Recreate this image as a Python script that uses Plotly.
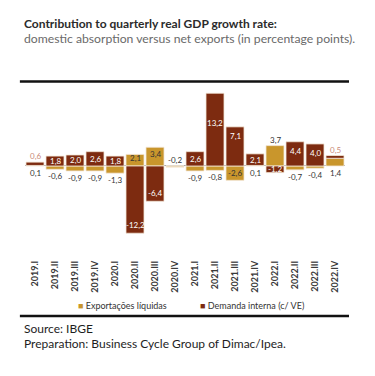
import plotly.graph_objects as go

quarters = ["2019.I", "2019.II", "2019.III", "2019.IV", "2020.I", "2020.II", "2020.III", "2020.IV",
            "2021.I", "2021.II", "2021.III", "2021.IV", "2022.I", "2022.II", "2022.III", "2022.IV"]
net_exports = [0.1, -0.6, -0.9, -0.9, -1.3, 2.1, 3.4, -0.2, -0.9, -0.8, -2.6, 0.1, 3.7, -0.7, -0.4, 1.4]
domestic = [0.6, 1.8, 2.0, 2.6, 1.8, -12.2, -6.4, 0.0, 2.6, 13.2, 7.1, 2.1, -1.2, 4.4, 4.0, 0.5]
net_label_pos = ["below", "below", "below", "below", "below", "inside", "inside", "above",
                 "below", "below", "inside", "below", "above", "below", "below", "below"]
series_names = ["Exportações líquidas", "Demanda interna (c/ VE)"]

GOLD = "#c9962c"
BROWN = "#7d2b10"
FONT = "Lato"

def fmt(v):
    return f"{v:.1f}".replace(".", ",")

fig = go.Figure()
fig.add_trace(go.Bar(x=quarters, y=net_exports, name=series_names[0],
                     marker=dict(color=GOLD, line=dict(color="#f3e6d6", width=0.8))))
fig.add_trace(go.Bar(x=quarters, y=domestic, name=series_names[1],
                     marker=dict(color=BROWN, line=dict(color="#f3e6d6", width=0.8))))

ann = []
for q, n, d, pos in zip(quarters, net_exports, domestic, net_label_pos):
    if pos == "below":
        ann.append(dict(x=q, y=min(n, 0), yshift=-7, text=fmt(n), font=dict(size=8, color="#333333")))
    elif pos == "inside":
        ann.append(dict(x=q, y=n / 2 + (0.4 if n > 0 else 0), text=fmt(n), font=dict(size=8, color="#333333")))
    else:
        ann.append(dict(x=q, y=max(n, 0), yshift=6, text=fmt(n), font=dict(size=8, color="#333333")))
    if d == 0:
        continue
    base = max(n, 0)
    if abs(d) >= 3:
        if d > 0:
            shift = -9 if d < 10 else -30
            ann.append(dict(x=q, y=base + d, yshift=shift, text=fmt(d), font=dict(size=8, color="white")))
        else:
            ann.append(dict(x=q, y=d, yshift=8, text=fmt(d), font=dict(size=8, color="white")))
    elif abs(d) >= 1:
        ann.append(dict(x=q, y=(base + d / 2) if d > 0 else d / 2, text=fmt(d),
                        font=dict(size=8, color="white")))
    else:
        ann.append(dict(x=q, y=base + d, yshift=6, text=fmt(d), font=dict(size=8, color="#c98a78")))

for a in ann:
    a.update(xref="x", yref="y", showarrow=False, font=dict(family=FONT, **a["font"]))

def legend_item(color, label):
    return f'<span style="color:{color}">■</span> {label}'

ann += [
    dict(xref="paper", yref="paper", x=-0.01, y=1.0, xanchor="left", yanchor="middle",
         yshift=85 - 23, showarrow=False, text="<b>Contribution to quarterly real GDP growth rate:</b>",
         font=dict(family=FONT, size=12, color="#2b2b2b")),
    dict(xref="paper", yref="paper", x=-0.01, y=1.0, xanchor="left", yanchor="middle",
         yshift=85 - 38, showarrow=False, text="domestic absorption versus net exports (in percentage points).",
         font=dict(family=FONT, size=12.2, color="#6a6a6a")),
    dict(xref="paper", yref="paper", x=(76 - 25) / 320, y=0.0, xanchor="left", yanchor="middle",
         yshift=258 - 305, showarrow=False, text=legend_item(GOLD, series_names[0]),
         font=dict(family=FONT, size=9, color="#333333")),
    dict(xref="paper", yref="paper", x=(198 - 25) / 320, y=0.0, xanchor="left", yanchor="middle",
         yshift=258 - 305, showarrow=False, text=legend_item(BROWN, series_names[1]),
         font=dict(family=FONT, size=9, color="#333333")),
    dict(xref="paper", yref="paper", x=-0.01, y=0.0, xanchor="left", yanchor="middle",
         yshift=258 - 328, showarrow=False, text="Source: IBGE",
         font=dict(family=FONT, size=12, color="#1e1e1e")),
    dict(xref="paper", yref="paper", x=-0.01, y=0.0, xanchor="left", yanchor="middle",
         yshift=258 - 343, showarrow=False, text="Preparation: Business Cycle Group of Dimac/Ipea.",
         font=dict(family=FONT, size=12, color="#1e1e1e")),
]

shapes = [
    dict(type="line", xref="paper", yref="paper", x0=-0.016, x1=1.0125, y0=1.02, y1=1.02,
         line=dict(color="#111111", width=2.5)),
    dict(type="line", xref="paper", yref="paper", x0=-0.016, x1=1.0125, y0=-0.335, y1=-0.335,
         line=dict(color="#111111", width=2.5)),
]

# page body has an 8px default margin: shift the figure contents up/left to compensate
fig.update_layout(
    width=375, height=376,
    margin=dict(l=17, r=38, t=77, b=126),
    barmode="relative", bargap=0.1,
    paper_bgcolor="white", plot_bgcolor="white",
    showlegend=False,
    annotations=ann, shapes=shapes,
    font=dict(family=FONT),
)
fig.update_xaxes(tickangle=-90, tickfont=dict(family=FONT, size=9, color="#3a3a3a", weight="bold"),
                 showline=False, ticks="", showgrid=False, fixedrange=True)
fig.update_yaxes(range=[-16.7, 14.7], showticklabels=False, showgrid=False, zeroline=True,
                 zerolinecolor="#a8a8a8", zerolinewidth=1, ticks="", fixedrange=True)

fig.write_html("out.html", config={"displayModeBar": False})
